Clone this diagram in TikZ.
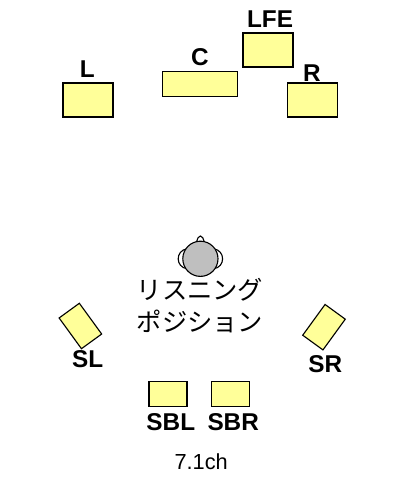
\documentclass[tikz,border=0pt]{standalone}
\usepackage{fontspec}
\setmainfont{Liberation Sans}
\newfontfamily\jpfont{Noto Sans CJK JP}
\definecolor{boxyellow}{HTML}{FFFF99}
\definecolor{headgray}{HTML}{BFBFBF}
\tikzset{
  spk/.style={draw=black,fill=boxyellow,line width=0.8pt,inner sep=0pt},
  lab/.style={font=\fontsize{17.3}{17.3}\selectfont\bfseries,inner sep=0pt,anchor=base},
  txt/.style={font=\fontsize{18}{18}\selectfont\jpfont,inner sep=0pt,anchor=base}
}
\begin{document}
\begin{tikzpicture}
\useasboundingbox (0,0) rectangle (10,12);

\node[spk,minimum width=1.25cm,minimum height=0.85cm] (spkL) at (2.20,9.50) {};
\node[spk,minimum width=1.875cm,minimum height=0.625cm] (spkC) at (5.01,9.91) {};
\node[spk,minimum width=1.25cm,minimum height=0.85cm] (spkLFE) at (6.70,10.75) {};
\node[spk,minimum width=1.25cm,minimum height=0.85cm] (spkR) at (7.82,9.50) {};
\node[spk,minimum width=0.625cm,minimum height=0.95cm,rotate=36] (spkSL) at (2.01,3.85) {};
\node[spk,minimum width=0.625cm,minimum height=0.95cm,rotate=-36] (spkSR) at (8.10,3.82) {};
\node[spk,minimum width=0.95cm,minimum height=0.625cm] (spkSBL) at (4.20,2.16) {};
\node[spk,minimum width=0.95cm,minimum height=0.625cm] (spkSBR) at (5.77,2.16) {};

\node[lab] (labL) at (2.18,10.07) {L};
\node[lab] (labC) at (5.00,10.37) {C};
\node[lab] (labLFE) at (6.75,11.30) {LFE};
\node[lab] (labR) at (7.80,9.97) {R};
\node[lab] (labSL) at (2.19,2.82) {SL};
\node[lab] (labSR) at (8.13,2.70) {SR};
\node[lab] (labSBL) at (4.27,1.25) {SBL};
\node[lab] (labSBR) at (5.83,1.25) {SBR};

% head
\draw[line width=0.8pt,fill=white] (4.90,5.90) .. controls (4.94,6.05) and (4.96,6.10) .. (5.01,6.10) .. controls (5.06,6.10) and (5.08,6.05) .. (5.12,5.90) -- cycle;
\draw[line width=0.8pt,fill=white] (4.68,5.78) .. controls (4.38,5.74) and (4.38,5.32) .. (4.68,5.28) -- cycle;
\draw[line width=0.8pt,fill=white] (5.34,5.78) .. controls (5.64,5.74) and (5.64,5.32) .. (5.34,5.28) -- cycle;
\draw[line width=0.8pt,fill=headgray] (5.01,5.53) circle (0.44);

\node[txt] (txtA) at (5.00,4.52) {リスニング};
\node[txt] (txtB) at (5.00,3.72) {ポジション};
\node[font=\fontsize{15.5}{15.5}\selectfont,inner sep=0pt,anchor=base] (txtCh) at (5.03,0.25) {7.1ch};
\end{tikzpicture}
\end{document}
